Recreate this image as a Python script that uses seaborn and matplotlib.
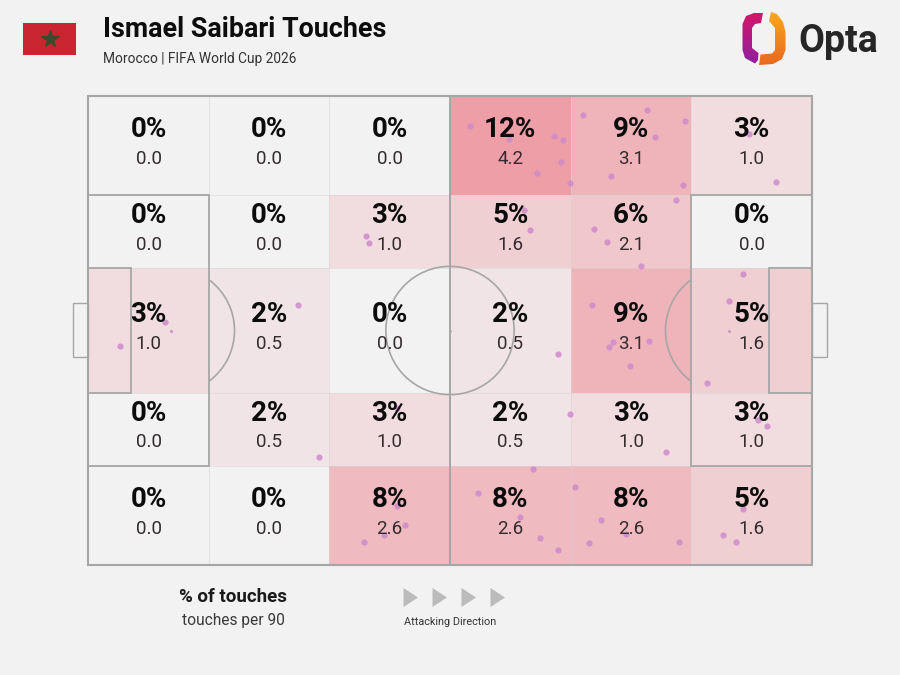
import numpy as np
import pandas as pd
import matplotlib
matplotlib.use("Agg")
import matplotlib.pyplot as plt
from matplotlib.patches import Rectangle, Circle, Arc, Polygon
import seaborn as sns

# Zone edges in pitch metres (105 x 68, y measured from the bottom touchline)
x_edges = [0, 17.6, 35, 52.5, 70, 87.5, 105]
y_edges = [0, 14.35, 25.0, 43.0, 53.65, 68]

# Zone shares and per-90 rates, listed from the top row down
pct_rows = [
    [0, 0, 0, 12, 9, 3],
    [0, 0, 3, 5, 6, 0],
    [3, 2, 0, 2, 9, 5],
    [0, 2, 3, 2, 3, 3],
    [0, 0, 8, 8, 8, 5],
]
per90_rows = [
    [0.0, 0.0, 0.0, 4.2, 3.1, 1.0],
    [0.0, 0.0, 1.0, 1.6, 2.1, 0.0],
    [1.0, 0.5, 0.0, 0.5, 3.1, 1.6],
    [0.0, 0.5, 1.0, 0.5, 1.0, 1.0],
    [0.0, 0.0, 2.6, 2.6, 2.6, 1.6],
]

# Individual touch locations in pitch metres
touch_x = [55.4, 61.1, 67.6, 68.9, 68.6, 65.1, 69.9, 71.8, 81.1, 86.6, 82.2, 75.8,
           86.3, 95.8, 99.8, 85.3, 73.4, 75.2, 64.1, 63.2, 80.2, 95.0, 40.3, 40.7,
           4.7, 11.2, 30.4, 33.5, 44.8, 44.8, 46.0, 42.9, 40.0, 68.1, 73.1, 76.2,
           75.6, 81.4, 78.6, 93.0, 89.7, 69.9, 83.8, 98.5, 97.2, 64.6, 56.6, 62.6,
           65.5, 68.1, 70.6, 74.4, 78.0, 72.6, 85.7, 95.0, 92.1, 94.0]
touch_y = [63.7, 61.7, 62.2, 61.6, 58.5, 56.9, 55.4, 65.2, 65.9, 64.4, 62.1, 56.4,
           55.1, 62.5, 55.6, 52.9, 48.7, 46.8, 48.6, 51.4, 43.4, 42.2, 47.7, 46.7,
           31.8, 35.3, 37.7, 15.7, 22.8, 8.5, 5.8, 4.3, 3.4, 30.6, 37.7, 32.4,
           31.6, 32.5, 28.9, 38.3, 26.4, 21.9, 16.4, 20.2, 21.0, 13.9, 10.5, 7.0,
           3.9, 2.2, 11.3, 6.5, 4.5, 3.2, 3.4, 8.1, 4.3, 3.4]

title_text = "Ismael Saibari Touches"
subtitle_text = "Morocco | FIFA World Cup 2026"
legend_main = "% of touches"
legend_sub = "touches per 90"
direction_text = "Attacking Direction"

BG = "#f2f2f2"
LINE = "#a6a6a6"
FONT = "Roboto"

sns.set_theme(style="white", rc={"figure.facecolor": BG, "axes.facecolor": BG})
plt.rcParams["font.family"] = [FONT, "DejaVu Sans"]

fig = plt.figure(figsize=(9, 6.75), dpi=100, facecolor=BG)
W, H = 900, 675

# Pitch axes: metres map onto the pitch rectangle of the figure
left, right, top, bottom = 88, 812, 96, 565
ax = fig.add_axes([left / W, 1 - bottom / H, (right - left) / W, (bottom - top) / H])
ax.set_xlim(0, 105)
ax.set_ylim(0, 68)
ax.set_axis_off()

# Zone shading
shade = sns.blend_palette([BG, "#ee9ea7"], as_cmap=True)
pct_grid = np.array(pct_rows, dtype=float)[::-1]
ax.pcolormesh(x_edges, y_edges, pct_grid, cmap=shade, vmin=0, vmax=12,
              edgecolors="none", zorder=1)

# Faint zone boundaries
for xe in x_edges[1:-1]:
    ax.plot([xe, xe], [0, 68], color="#d9d3d4", lw=0.6, zorder=2, alpha=0.6)
for ye in y_edges[1:-1]:
    ax.plot([0, 105], [ye, ye], color="#d9d3d4", lw=0.6, zorder=2, alpha=0.6)

# Pitch markings
line_kw = dict(edgecolor=LINE, facecolor="none", lw=1.3, zorder=3, clip_on=False)
ax.add_patch(Rectangle((0, 0), 105, 68, **{**line_kw, "lw": 1.5}))
ax.plot([52.5, 52.5], [0, 68], color=LINE, lw=1.4, zorder=3)
ax.add_patch(Circle((52.5, 34), 9.3, **{**line_kw, "lw": 1.2}))
ax.add_patch(Rectangle((0, 14.35), 17.6, 39.3, **line_kw))
ax.add_patch(Rectangle((87.5, 14.35), 17.5, 39.3, **line_kw))
ax.add_patch(Rectangle((0, 25.0), 6.2, 18.0, **line_kw))
ax.add_patch(Rectangle((98.8, 25.0), 6.2, 18.0, **line_kw))
ax.add_patch(Rectangle((-2.2, 30.2), 2.2, 7.8, **{**line_kw, "lw": 1.0}))
ax.add_patch(Rectangle((105, 30.2), 2.2, 7.8, **{**line_kw, "lw": 1.0}))
ax.add_patch(Arc((12.1, 34), 18.3, 18.3, theta1=-53, theta2=53,
                 edgecolor=LINE, lw=1.2, zorder=3))
ax.add_patch(Arc((92.9, 34), 18.3, 18.3, theta1=127, theta2=233,
                 edgecolor=LINE, lw=1.2, zorder=3))
sns.scatterplot(x=[12.1, 93.0], y=[34, 34], color="#c79ac4", s=5, linewidth=0,
                ax=ax, zorder=4, legend=False)
sns.scatterplot(x=[52.5], y=[34], color=LINE, s=3, linewidth=0, ax=ax, zorder=4,
                legend=False)

# Touches
touches = pd.DataFrame({"x": touch_x, "y": touch_y})
sns.scatterplot(data=touches, x="x", y="y", color="#cf8acb", alpha=0.85, s=20,
                linewidth=0, ax=ax, zorder=5, legend=False, clip_on=False)
ax.set_xlabel("")
ax.set_ylabel("")

# Zone labels
x_centres = [(a + b) / 2 for a, b in zip(x_edges[:-1], x_edges[1:])]
y_centres = [(a + b) / 2 for a, b in zip(y_edges[:-1], y_edges[1:])][::-1]
for r, yc in enumerate(y_centres):
    for c, xc in enumerate(x_centres):
        ax.text(xc, yc + 2.3, f"{pct_rows[r][c]}%", ha="center", va="center",
                fontsize=20, fontweight="bold", color="#0c0c0c", zorder=6)
        ax.text(xc, yc - 1.9, f"{per90_rows[r][c]:.1f}", ha="center", va="center",
                fontsize=13.5, color="#332b2e", zorder=6)

# Overlay in pixel units for the header and footer furniture
ov = fig.add_axes([0, 0, 1, 1], facecolor="none")
ov.set_xlim(0, W)
ov.set_ylim(H, 0)
ov.set_axis_off()

# Flag
ov.add_patch(Rectangle((23, 23), 53, 32, facecolor="#c9252f", edgecolor="none"))
ov.plot([49.5], [39], marker="*", ms=13, mfc="#3a4a2c", mec="#3a4a2c", lw=0)

# Title block
ov.text(103, 29.5, title_text, fontsize=19.4, fontweight="bold", color="#0d0d0d",
        ha="left", va="center")
ov.text(103, 58.5, subtitle_text, fontsize=9.9, color="#333333", ha="left", va="center")


def bracket(points, colours, box):
    """Fill a closed outline with a vertical colour ramp."""
    patch = Polygon(points, closed=True, facecolor="none", edgecolor="none")
    ov.add_patch(patch)
    ramp = sns.blend_palette(colours, as_cmap=True)
    grad = np.linspace(0, 1, 64).reshape(-1, 1)
    im = ov.imshow(grad, cmap=ramp, extent=box, aspect="auto", zorder=3)
    im.set_clip_path(patch)


# Logo: two interlocking brackets
left_part = [(754, 13), (746, 16), (742.5, 24), (742.5, 50), (745, 58), (755, 63.5),
             (758, 60), (758.5, 53), (752, 48), (752, 28), (755, 24), (761, 23),
             (763, 13)]
right_part = [(771, 12), (777, 14), (783, 22), (785.5, 32), (785.5, 50), (782, 59),
              (773, 64), (759, 65), (760.5, 54.5), (772, 53.5), (775, 50), (775, 28),
              (769, 21)]
bracket(left_part, ["#d31668", "#8f1fa0"], (742, 764, 65, 12))
bracket(right_part, ["#f9a81e", "#e8671f"], (758, 786, 66, 12))
ov.set_xlim(0, W)
ov.set_ylim(H, 0)
ov.text(798, 41, "Opta", fontsize=27, fontweight="bold", color="#262626",
        ha="left", va="center")

# Footer key
ov.text(233, 596.5, legend_main, fontsize=13.5, fontweight="bold", color="#1a1a1a",
        ha="center", va="center")
ov.text(233, 620, legend_sub, fontsize=11.2, color="#3a3a3a", ha="center", va="center")
for tx in [403.5, 432.5, 461.5, 490.5]:
    ov.add_patch(Polygon([(tx, 588), (tx, 607), (tx + 14.5, 597.5)], closed=True,
                         facecolor="#bbbbbb", edgecolor="none"))
ov.text(450.5, 622, direction_text, fontsize=7.8, color="#333333", ha="center", va="center")

fig.savefig("out.png", dpi=100, facecolor=BG)
